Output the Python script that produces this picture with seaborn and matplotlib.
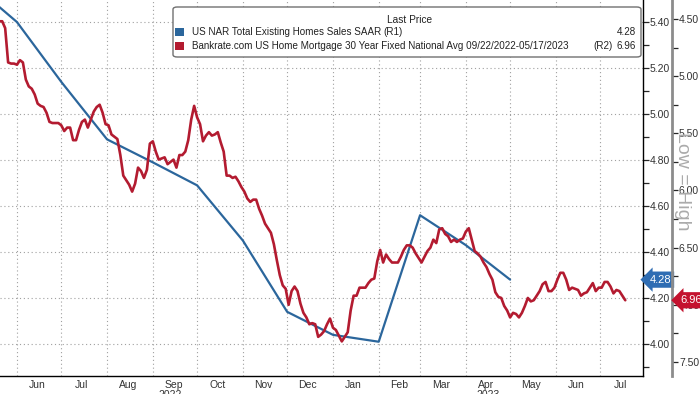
import pandas as pd
import matplotlib
matplotlib.use('Agg')
import matplotlib.pyplot as plt
import matplotlib.dates as mdates
import matplotlib.transforms as mtrans
from matplotlib.patches import FancyBboxPatch, Rectangle
from matplotlib.ticker import MultipleLocator, FormatStrFormatter, NullFormatter
import seaborn as sns

# US NAR existing home sales, SAAR (millions) - R1
sales_dates = ['2022-05-01', '2022-06-01', '2022-07-01', '2022-08-01', '2022-09-01',
               '2022-10-01', '2022-11-01', '2022-12-01', '2023-01-01', '2023-02-01',
               '2023-03-01', '2023-04-01', '2023-05-01']
sales_values = [5.57, 5.40, 5.14, 4.89, 4.79, 4.69, 4.45, 4.14, 4.04, 4.01, 4.56, 4.43, 4.28]

# Bankrate 30y fixed mortgage (%) - R2 (inverted), one reading every 2 days
rate_start = '2022-05-20'
rate_values = [
    4.52, 4.52, 4.58, 4.88, 4.89, 4.89, 4.90, 4.86, 4.88, 5.03,
    5.09, 5.11, 5.16, 5.24, 5.26, 5.27, 5.32, 5.40, 5.41, 5.41,
    5.41, 5.43, 5.48, 5.45, 5.45, 5.56, 5.56, 5.47, 5.40, 5.38,
    5.45, 5.38, 5.31, 5.27, 5.25, 5.32, 5.42, 5.43, 5.51, 5.53,
    5.55, 5.69, 5.87, 5.91, 5.95, 6.01, 5.94, 5.80, 5.83, 5.89,
    5.82, 5.59, 5.57, 5.66, 5.73, 5.72, 5.71, 5.77, 5.75, 5.73,
    5.80, 5.69, 5.69, 5.66, 5.56, 5.38, 5.26, 5.36, 5.42, 5.57,
    5.52, 5.49, 5.52, 5.51, 5.49, 5.58, 5.66, 5.87, 5.87, 5.89,
    5.88, 5.92, 5.97, 6.01, 6.07, 6.10, 6.08, 6.08, 6.16, 6.22,
    6.29, 6.33, 6.37, 6.47, 6.61, 6.74, 6.83, 6.86, 7.00, 6.88,
    6.84, 6.88, 6.99, 7.07, 7.11, 7.17, 7.16, 7.17, 7.28, 7.26,
    7.23, 7.17, 7.12, 7.20, 7.22, 7.27, 7.32, 7.28, 7.24, 7.05,
    6.92, 6.92, 6.85, 6.85, 6.85, 6.81, 6.78, 6.77, 6.62, 6.52,
    6.63, 6.56, 6.60, 6.63, 6.63, 6.63, 6.58, 6.52, 6.48, 6.48,
    6.50, 6.55, 6.59, 6.63, 6.58, 6.53, 6.50, 6.43, 6.46, 6.34,
    6.33, 6.38, 6.40, 6.45, 6.43, 6.45, 6.43, 6.42, 6.36, 6.33,
    6.43, 6.53, 6.55, 6.58, 6.63, 6.67, 6.73, 6.78, 6.89, 6.93,
    6.94, 7.01, 7.05, 7.11, 7.07, 7.08, 7.11, 7.07, 7.01, 6.94,
    6.97, 6.96, 6.92, 6.88, 6.82, 6.80, 6.88, 6.88, 6.85, 6.78,
    6.72, 6.72, 6.78, 6.87, 6.85, 6.86, 6.87, 6.92, 6.90, 6.89,
    6.85, 6.81, 6.88, 6.85, 6.85, 6.80, 6.80, 6.84, 6.90, 6.87,
    6.88, 6.92, 6.96]

sales_label = 'US NAR Total Existing Homes Sales SAAR'
rate_label = 'Bankrate.com US Home Mortgage 30 Year Fixed National Avg 09/22/2022-05/17/2023'

BLUE = '#2B669C'
RED = '#B31B30'
TAG_BLUE = '#2F6DB3'
TAG_RED = '#C4122E'
GRID = '#A0A0A0'

sales_df = pd.DataFrame({'date': pd.to_datetime(sales_dates), 'value': sales_values})
rate_df = pd.DataFrame({'date': pd.date_range(rate_start, periods=len(rate_values), freq='2D'),
                        'value': rate_values})

sns.set_style('white')
plt.rcParams['font.family'] = ['Liberation Sans', 'DejaVu Sans']

W, H = 700, 394
fig = plt.figure(figsize=(7, 3.94), dpi=100)
ax = fig.add_axes([0, 18 / H, 643 / W, 376 / H])

sns.lineplot(data=sales_df, x='date', y='value', ax=ax, color=BLUE, lw=1.6, legend=False)
ax2 = ax.twinx()
sns.lineplot(data=rate_df, x='date', y='value', ax=ax2, color=RED, lw=1.9, legend=False)

ax.set_xlim(pd.Timestamp('2022-05-20 12:00'), pd.Timestamp('2023-07-30'))
ax.set_ylim(3.861, 5.496)
ax2.set_ylim(7.6225, 4.334)
for a in (ax, ax2):
    a.set_xlabel('')
    a.set_ylabel('')

# R1 axis on the right
ax.yaxis.tick_right()
ax.yaxis.set_major_locator(MultipleLocator(0.2))
ax.yaxis.set_minor_locator(MultipleLocator(0.1))
ax.yaxis.set_major_formatter(FormatStrFormatter('%.2f'))
ax.tick_params(axis='y', which='both', direction='out', length=4, width=0.9,
               labelsize=7.5, pad=1, labelcolor='#333333')

# R2 axis, further right and inverted
ax2.spines['right'].set_position(('axes', 672 / 643))
ax2.yaxis.set_major_locator(MultipleLocator(0.5))
ax2.yaxis.set_minor_locator(MultipleLocator(0.25))
ax2.yaxis.set_major_formatter(FormatStrFormatter('%.2f'))
ax2.tick_params(axis='y', which='both', direction='out', length=4, width=0.9,
                labelsize=7.5, pad=1, labelcolor='#333333')

# month axis
ax.xaxis.set_major_locator(mdates.MonthLocator())
ax.xaxis.set_major_formatter(NullFormatter())
ax.xaxis.set_minor_locator(mdates.MonthLocator(bymonthday=15))
ax.xaxis.set_minor_formatter(mdates.DateFormatter('%b'))
ax.tick_params(axis='x', which='major', direction='out', length=4, width=0.8)
ax.tick_params(axis='x', which='minor', length=0, labelsize=7.5, pad=3, labelcolor='#333333')

ax.grid(axis='both', which='major', ls=(0, (1, 2.5)), color=GRID, lw=0.8)
ax2.grid(False)

for s in ('top', 'left'):
    ax.spines[s].set_visible(False)
for s in ('top', 'left', 'bottom'):
    ax2.spines[s].set_visible(False)
ax.spines['right'].set_color('black')
ax.spines['right'].set_linewidth(1.0)
ax.spines['bottom'].set_color('black')
ax.spines['bottom'].set_linewidth(1.0)
ax2.spines['right'].set_color('#8C8C8C')
ax2.spines['right'].set_linewidth(2.0)

# year labels under the months (partly cut off at the bottom edge, as in the source)
xtr = mtrans.blended_transform_factory(ax.transData, ax.transAxes)
for yr_date, yr in [('2022-09-13', '2022'), ('2023-04-16', '2023')]:
    ax.text(pd.Timestamp(yr_date), -0.037, yr, transform=xtr, ha='center', va='top',
            fontsize=7.5, color='#333333')

# last price tags
tr1 = mtrans.blended_transform_factory(ax.transAxes, ax.transData)
ax.text(1.010, sales_values[-1], f'{sales_values[-1]:.2f}', transform=tr1, ha='left', va='center',
        fontsize=8, color='white',
        bbox=dict(boxstyle='larrow,pad=0.28', fc=TAG_BLUE, ec='none'))
tr2 = mtrans.blended_transform_factory(ax2.transAxes, ax2.transData)
ax2.text(1.058, rate_values[-1], f'{rate_values[-1]:.2f}', transform=tr2, ha='left', va='center',
         fontsize=8, color='white',
         bbox=dict(boxstyle='larrow,pad=0.28', fc=TAG_RED, ec='none'))

fig.text(683 / W, 1 - 181 / H, 'Low = High', rotation=270, ha='center', va='center',
         fontsize=14, color='#ABABAB')

# legend box
def fx(px):
    return px / W

def fy(py):
    return 1 - py / H

box = FancyBboxPatch((fx(173), fy(57)), fx(641) - fx(173), fy(7) - fy(57),
                     boxstyle='round,pad=0,rounding_size=0.006', transform=fig.transFigure,
                     fc='white', ec='#707070', lw=1.0, zorder=10)
fig.patches.append(box)
fig.text(fx(410), fy(20), 'Last Price', ha='center', va='center', fontsize=7.3,
         color='#222222', zorder=11)
rows = [(32, BLUE, sales_label, '(R1)', 383, f'{sales_values[-1]:.2f}'),
        (46, RED, rate_label, '(R2)', 593, f'{rate_values[-1]:.2f}')]
for ypx, col, name, axis_tag, tag_x, val in rows:
    fig.patches.append(Rectangle((fx(175), fy(ypx + 4)), fx(9), 8 / H, transform=fig.transFigure,
                                 fc=col, ec='none', zorder=11))
    fig.text(fx(192), fy(ypx), name, ha='left', va='center', fontsize=7.1, color='#222222', zorder=11)
    fig.text(fx(tag_x), fy(ypx), axis_tag, ha='left', va='center', fontsize=7.1,
             color='#222222', zorder=11)
    fig.text(fx(636), fy(ypx), val, ha='right', va='center', fontsize=7.1, color='#222222', zorder=11)

fig.savefig('out.png', dpi=100)
